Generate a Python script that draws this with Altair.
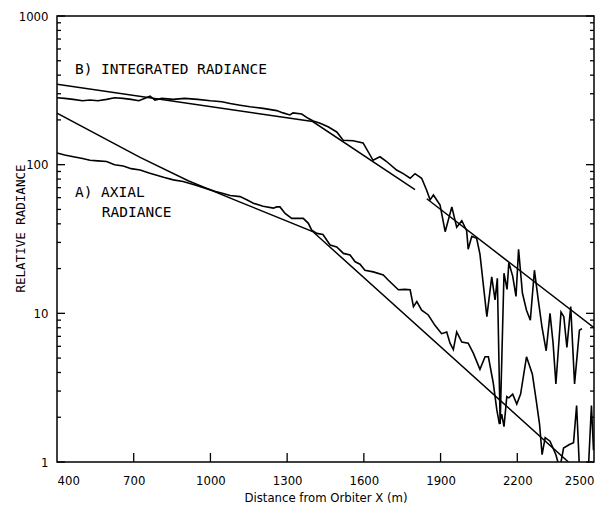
import altair as alt
import pandas as pd

# ---- data ----
b_x = [400, 430, 463, 500, 529, 560, 594, 625, 658, 690, 720, 764, 783, 810, 854, 900, 950, 1000,
       1045, 1077, 1116, 1155, 1206, 1259, 1284, 1311, 1323, 1357, 1382, 1402, 1429, 1460, 1494,
       1519, 1558, 1597, 1636, 1663, 1689, 1728, 1754, 1781, 1800, 1826, 1846, 1859, 1872, 1898,
       1918, 1944, 1963, 1983, 2002, 2008, 2022, 2041, 2054, 2081, 2100, 2113, 2122, 2133, 2148,
       2160, 2167, 2182, 2195, 2205, 2220, 2236, 2251, 2267, 2282, 2297, 2313, 2328, 2340, 2351,
       2371, 2382, 2394, 2409, 2424, 2443, 2453]
b_y = [282, 279, 275, 269, 272, 269, 275, 282, 279, 275, 269, 289, 272, 279, 275, 279, 275, 269,
       265, 258, 251, 245, 239, 231, 223, 216, 223, 219, 205, 197, 190, 180, 166,
       146, 145, 140, 107, 113, 105, 92, 87, 81, 87, 81, 67, 58, 62.5, 53.5,
       35.4, 52, 38, 42, 36, 27, 33, 32, 25, 9.5, 17.6, 12.3, 17.2, 1.8, 18.6,
       14.5, 21.9, 17.8, 13, 27, 13.7, 10.5, 9, 19.5, 12.3, 8, 5.6, 10, 6.3, 3.35,
       10.2, 9.5, 5.9, 11.1, 3.35, 7.7, 7.9]

a_x = [400, 430, 464, 500, 529, 560, 594, 625, 659, 690, 725, 760, 790, 820, 855, 893, 940, 985,
       1020, 1050, 1077, 1116, 1142, 1168, 1206, 1246, 1259, 1272, 1292, 1318, 1340, 1363, 1383,
       1396, 1416, 1440, 1468, 1494, 1520, 1546, 1566, 1585, 1604, 1637, 1676, 1696, 1735, 1760,
       1781, 1794, 1807, 1826, 1852, 1878, 1904, 1924, 1937, 1950, 1963, 1983, 2008, 2028, 2054,
       2074, 2087, 2106, 2120, 2130, 2139, 2148, 2159, 2167, 2182, 2198, 2213, 2236, 2259, 2274,
       2287, 2297, 2309, 2328, 2351, 2366, 2381, 2404, 2420, 2432, 2442, 2455, 2475, 2490, 2498]
a_y = [120, 116, 113, 110, 107, 106, 105, 100, 98, 94, 92, 88, 85, 82, 79, 77, 73, 69,
       66, 64, 62, 61, 58, 55, 52.5, 51, 52, 52, 47, 43.5, 43.6, 43.5, 40.3,
       36.3, 34.5, 33.9, 28.8, 28, 25.3, 24.7, 22.2, 21.4, 19.5, 19, 18.1, 16.7, 14.4, 14.5,
       14.4, 11.1, 12, 10.5, 9.75, 8.3, 7.3, 7.5, 6.3, 5.7, 7.5, 6.4, 6.3, 5.4, 4.2,
       5.1, 5.1, 3.4, 2.24, 1.8, 2.1, 1.73, 2.75, 2.7, 2.86, 2.45, 2.86, 5.1, 3.9, 2.6,
       1.8, 1.12, 1.46, 1.38, 1.12, 0.9, 1.24, 1.31, 1.35, 2.4, 1.0, 0.7, 0.7, 2.4, 1.2]

# fitted lines (segments)
fit_seg = ["B1", "B1", "B1", "B2", "B2", "A", "A", "A", "A", "A", "A"]
fit_x = [400, 1400, 1800, 1846, 2500, 400, 725, 913, 1116, 1400, 2400]
fit_y = [348, 195, 68, 59, 8, 222, 112, 78, 56, 35.5, 1]

ann_x = [470, 470, 575]
ann_y = [430, 64, 47.5]
ann_text = ["B) INTEGRATED RADIANCE", "A) AXIAL", "RADIANCE"]

x_ticks = [400, 700, 1000, 1300, 1600, 1900, 2200, 2500]
y_major = [1, 10, 100, 1000]
y_minor = [m * d for d in (1, 10, 100) for m in range(2, 10)]

W, H = 537, 446
mono = "DejaVu Sans Mono"
cond = "DejaVu Sans Condensed, Liberation Sans Narrow, DejaVu Sans"

data_df = pd.DataFrame({
    "x": b_x + a_x,
    "y": b_y + a_y,
    "s": ["B"] * len(b_x) + ["A"] * len(a_x),
})
fit_df = pd.DataFrame({"x": fit_x, "y": fit_y, "seg": fit_seg})
ann_df = pd.DataFrame({"x": ann_x, "y": ann_y, "t": ann_text})

xs = alt.Scale(domain=[400, 2500], nice=False, zero=False)
ys = alt.Scale(type="log", domain=[1, 1000], nice=False)

xax = alt.Axis(values=x_ticks, format="d", grid=False, ticks=False, domain=False,
               labelFont=cond, labelFontSize=13, labelColor="black", labelPadding=12,
               title="Distance from Orbiter X (m)", titleFont=cond, titleFontSize=13,
               titleFontWeight="normal", titleColor="black", titleY=35, titleBaseline="middle")
yax = alt.Axis(values=y_major, format="d", grid=False, ticks=False, domain=False,
               labelFont=cond, labelFontSize=13, labelColor="black", labelPadding=9,
               title="RELATIVE RADIANCE", titleFont=mono, titleFontSize=12.5,
               titleFontWeight="normal", titleColor="black", titleX=-37, titleY=212,
               titleBaseline="middle", titleAlign="center")

lines = alt.Chart(data_df).mark_line(color="black", strokeWidth=1.6, clip=True).encode(
    x=alt.X("x:Q", scale=xs, axis=xax),
    y=alt.Y("y:Q", scale=ys, axis=yax),
    detail="s:N",
)

fits = alt.Chart(fit_df).mark_line(color="black", strokeWidth=1.5, clip=True).encode(
    x=alt.X("x:Q", scale=xs),
    y=alt.Y("y:Q", scale=ys),
    detail="seg:N",
)

texts = alt.Chart(ann_df).mark_text(align="left", baseline="middle", font=mono,
                                    fontSize=14.5, color="black").encode(
    x=alt.X("x:Q", scale=xs),
    y=alt.Y("y:Q", scale=ys),
    text="t:N",
)

ymaj_df = pd.DataFrame({"v": y_major})
ymin_df = pd.DataFrame({"v": y_minor})
xt_df = pd.DataFrame({"v": x_ticks[1:-1]})

def yticks(df, length):
    left = alt.Chart(df).mark_rule(color="black", strokeWidth=1.3).encode(
        y=alt.Y("v:Q", scale=ys), x=alt.value(0), x2=alt.value(length))
    right = alt.Chart(df).mark_rule(color="black", strokeWidth=1.3).encode(
        y=alt.Y("v:Q", scale=ys), x=alt.value(W), x2=alt.value(W - length))
    return left + right

xticks = alt.Chart(xt_df).mark_rule(color="black", strokeWidth=1.3).encode(
    x=alt.X("v:Q", scale=xs), y=alt.value(H), y2=alt.value(H - 9))

chart = alt.layer(
    lines, fits, texts, yticks(ymaj_df, 8), yticks(ymin_df, 4), xticks
).properties(
    width=W, height=H,
    autosize=alt.AutoSizeParams(type="none"),
    padding={"left": 49, "top": 8, "right": 12, "bottom": 42},
    background="white",
).configure_view(stroke="black", strokeWidth=1.5)

chart.save("out.html", embed_options={"renderer": "svg", "actions": False})
